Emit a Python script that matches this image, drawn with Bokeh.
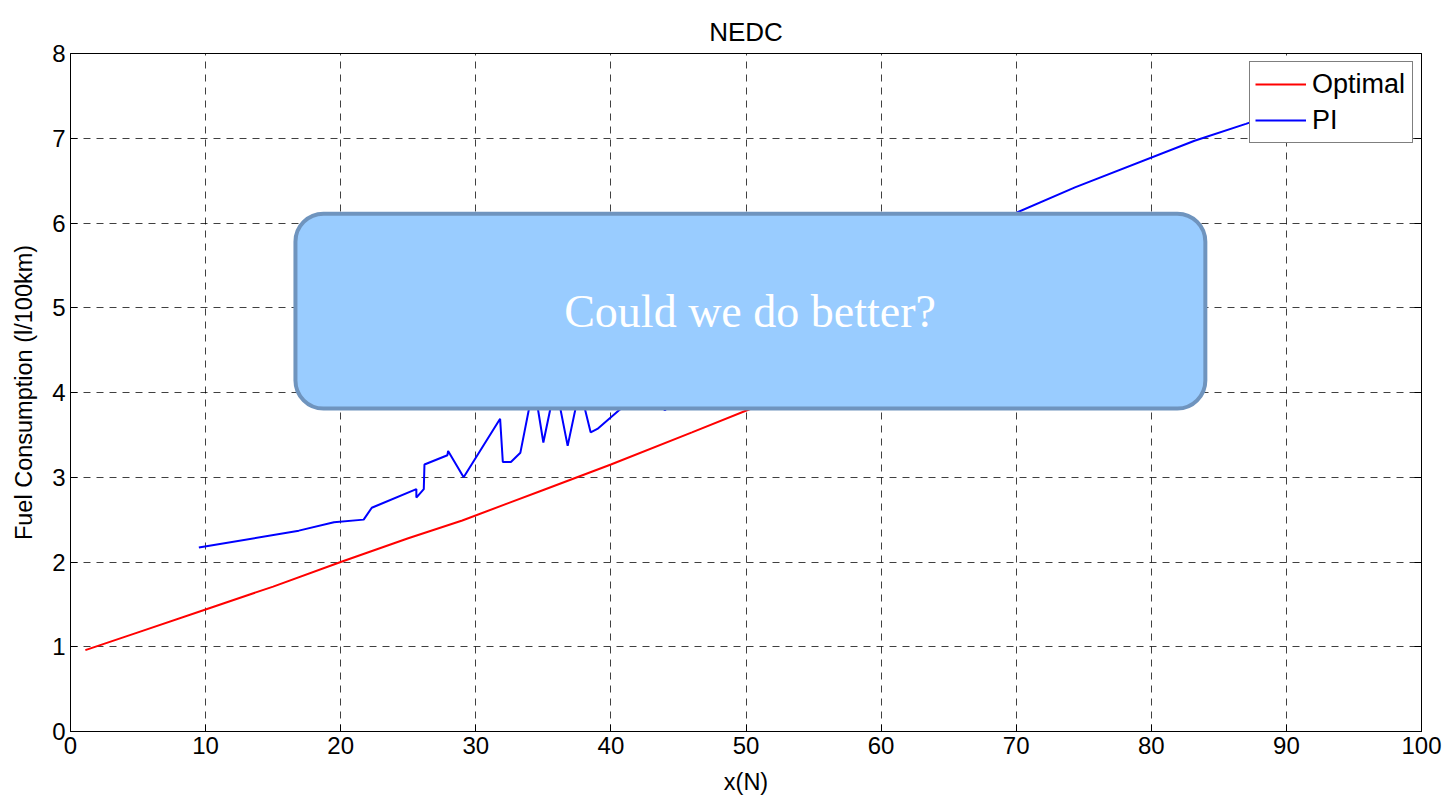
from bokeh.plotting import figure
from bokeh.models import Range1d, LinearAxis, BoxAnnotation, Label, Legend, LegendItem, FixedTicker
from bokeh.embed import file_html
from bokeh.resources import INLINE

# ---- data ----
opt_x = [1.1, 5, 10, 15, 20, 25, 29, 35, 40, 46, 51, 56, 62]
opt_y = [0.96, 1.17, 1.44, 1.71, 2.0, 2.28, 2.49, 2.85, 3.15, 3.53, 3.85, 4.15, 4.5]

pi_x = [9.5, 16.9, 19.5, 21.7, 22.3, 25.6, 25.6, 26.15, 26.2, 27.9, 27.95, 29.1, 31.8, 32.0,
        32.6, 33.3, 34.3, 35.0, 35.9, 36.8, 37.7, 38.5, 39.0, 40.6, 42.5, 44.0, 46, 50, 55,
        60, 65, 70.0, 74.35, 83.2, 87.0, 95]
pi_y = [2.17, 2.37, 2.47, 2.50, 2.64, 2.86, 2.76, 2.86, 3.15, 3.26, 3.31, 3.00, 3.69, 3.18,
        3.18, 3.29, 4.1, 3.41, 4.1, 3.37, 4.05, 3.53, 3.57, 3.79, 4.0, 3.79, 4.1, 4.5, 4.9,
        5.3, 5.7, 6.12, 6.42, 6.97, 7.17, 7.6]

x_ticks = [0, 10, 20, 30, 40, 50, 60, 70, 80, 90, 100]
y_ticks = [0, 1, 2, 3, 4, 5, 6, 7, 8]

FONT = "Liberation Sans"

p = figure(width=1449, height=798, output_backend="svg", toolbar_location=None,
           x_range=Range1d(0, 100), y_range=Range1d(0, 8),
           min_border_left=70, min_border_right=28, min_border_top=53, min_border_bottom=67,
           title="NEDC")
p.title.align = "center"
p.title.vertical_align = "top"
p.title.text_font = FONT
p.title.text_font_style = "normal"
p.title.text_font_size = "26px"
p.title.text_color = "black"
p.title.standoff = 10

p.outline_line_color = "black"
p.outline_line_width = 1
p.background_fill_color = "white"
p.border_fill_color = "white"

for ax in [p.xaxis[0], p.yaxis[0]]:
    ax.major_label_text_font = FONT
    ax.major_label_text_font_size = "24px"
    ax.major_label_text_color = "black"
    ax.axis_label_text_font = FONT
    ax.axis_label_text_font_size = "23.5px"
    ax.axis_label_text_font_style = "normal"
    ax.axis_label_text_color = "black"
    ax.major_tick_in = 7
    ax.major_tick_out = 0
    ax.minor_tick_in = 0
    ax.minor_tick_out = 0
    ax.axis_line_color = "black"
    ax.major_tick_line_color = "black"

p.xaxis[0].ticker = FixedTicker(ticks=x_ticks)
p.yaxis[0].ticker = FixedTicker(ticks=y_ticks)
p.xaxis[0].axis_label = "x(N)"
p.yaxis[0].axis_label = "Fuel Consumption (l/100km)"
p.xaxis[0].major_label_standoff = 5
p.xaxis[0].axis_label_standoff = 12
p.yaxis[0].major_label_standoff = 5
p.yaxis[0].axis_label_standoff = 12

# mirrored right axis (ticks only)
ax_r = LinearAxis(ticker=FixedTicker(ticks=y_ticks),
                  major_label_overrides={t: "" for t in y_ticks}, major_label_text_font_size="1px",
                  major_tick_in=7, major_tick_out=0, minor_tick_in=0, minor_tick_out=0)
p.add_layout(ax_r, "right")

p.xgrid.ticker = FixedTicker(ticks=x_ticks)
p.ygrid.ticker = FixedTicker(ticks=y_ticks)
for g in [p.xgrid[0], p.ygrid[0]]:
    g.grid_line_color = "black"
    g.grid_line_alpha = 0.75
    g.grid_line_dash = "7 6"
    g.grid_line_width = 1

r_opt = p.line(opt_x, opt_y, line_color="#FF0000", line_width=2)
r_pi = p.line(pi_x, pi_y, line_color="#0000FF", line_width=2)

legend = Legend(items=[LegendItem(label="Optimal", renderers=[r_opt]),
                       LegendItem(label="PI", renderers=[r_pi])],
                location="top_right")
legend.label_text_font = FONT
legend.label_text_font_size = "27px"
legend.label_text_color = "black"
legend.glyph_width = 51
legend.glyph_height = 34
legend.label_height = 34
legend.label_width = 95
legend.label_standoff = 6
legend.spacing = 2
legend.padding = 5
legend.margin = 8
legend.border_line_color = "black"
legend.border_line_width = 1
legend.background_fill_alpha = 1
p.add_layout(legend)

box = BoxAnnotation(left=16.65, right=84.0, bottom=3.81, top=6.11,
                    fill_color="#99CCFF", fill_alpha=1.0,
                    line_color="#6F94BE", line_width=4, line_alpha=1.0,
                    border_radius=28, level="overlay")
p.add_layout(box)

lbl = Label(x=50.3, y=4.95, text="Could we do better?", text_align="center",
            text_baseline="middle", text_font="Liberation Serif", text_font_size="46px",
            text_color="white", level="overlay")
p.add_layout(lbl)

open("out.html", "w").write(file_html(p, INLINE))
